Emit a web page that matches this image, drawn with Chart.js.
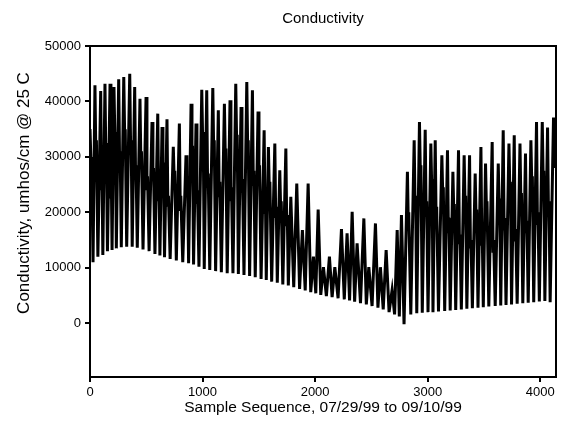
<!DOCTYPE html>
<html>
<head>
<meta charset="utf-8">
<title>Conductivity</title>
<script src="https://cdn.jsdelivr.net/npm/chart.js@4/dist/chart.umd.min.js"></script>
<style>
  html, body { margin: 0; padding: 0; background: #fff; }
  #wrap { width: 566px; height: 430px; }
</style>
</head>
<body>
<div id="wrap"><canvas id="chart" width="566" height="430"></canvas></div>
<script>
// turning points of the record (sample number, conductivity)
const sampleIndex = [
  0, 10, 14, 27, 44, 52, 57, 70, 95, 103, 107, 114, 133, 140, 145, 155,
  178, 186, 190, 196, 213, 221, 226, 234, 255, 263, 268, 278, 300, 308, 313, 326,
  353, 361, 366, 375, 397, 405, 409, 420, 444, 452, 457, 471, 498, 506, 511, 525,
  551, 559, 564, 577, 602, 610, 614, 621, 640, 648, 653, 662, 684, 692, 697, 712,
  740, 748, 753, 767, 794, 802, 807, 824, 853, 861, 866, 876, 898, 906, 911, 920,
  942, 950, 955, 968, 993, 1001, 1006, 1015, 1037, 1045, 1050, 1064, 1091, 1099, 1104, 1116,
  1140, 1148, 1153, 1167, 1194, 1202, 1207, 1219, 1244, 1252, 1257, 1270, 1295, 1303, 1308, 1318,
  1342, 1350, 1355, 1368, 1393, 1401, 1406, 1418, 1443, 1451, 1456, 1468, 1493, 1501, 1506, 1520,
  1547, 1555, 1559, 1566, 1585, 1593, 1598, 1614, 1642, 1650, 1655, 1664, 1686, 1694, 1699, 1713,
  1740, 1748, 1753, 1762, 1784, 1810, 1837, 1862, 1887, 1912, 1938, 1961,
  1985, 2006, 2027, 2050, 2074, 2100, 2127, 2151, 2175, 2204, 2234, 2259, 2284, 2306,
  2329, 2351, 2373, 2403, 2433, 2455, 2477, 2506, 2536, 2558, 2580, 2605, 2631, 2657,
  2684, 2706, 2729, 2748, 2767, 2790,
  2820, 2828, 2832, 2850, 2880, 2888, 2893, 2903, 2927, 2935, 2940, 2952, 2978, 2986, 2991, 3003,
  3028, 3036, 3040, 3047, 3067, 3075, 3080, 3096, 3126, 3134, 3139, 3151, 3176, 3184, 3189, 3200,
  3224, 3232, 3237, 3249, 3274, 3282, 3287, 3299, 3324, 3332, 3337, 3348, 3372, 3380, 3385, 3397,
  3422, 3430, 3435, 3447, 3473, 3481, 3485, 3494, 3514, 3522, 3527, 3543, 3573, 3581, 3586, 3600,
  3627, 3635, 3640, 3649, 3671, 3679, 3684, 3696, 3722, 3730, 3735, 3745, 3769, 3777, 3782, 3795,
  3820, 3828, 3833, 3845, 3869, 3877, 3882, 3893, 3917, 3925, 3930, 3942, 3967, 3975, 3980, 3992,
  4018, 4026, 4031, 4041, 4065, 4073, 4078, 4088, 4118, 4132
];
const conductivity = [
  35000, 28000, 30000, 11000, 42900, 30500, 33000, 12000, 41900, 24000, 27000, 12300, 43200, 31000, 32500, 13000,
  43200, 22500, 25000, 13200, 42600, 33500, 34500, 13500, 44000, 29000, 31000, 13700, 44400, 34000, 35000, 13800,
  45000, 31500, 33000, 13800, 42600, 26000, 28500, 13600, 40500, 29000, 31000, 13300, 40800, 24000, 26500, 13000,
  36300, 27000, 28000, 12500, 37800, 22000, 24000, 12200, 35400, 27500, 29000, 11900, 36800, 21000, 23000, 11600,
  31800, 26000, 27500, 11300, 36000, 20500, 23000, 11000, 30300, 25500, 26500, 10800, 39600, 30500, 32000, 10600,
  36000, 21500, 24000, 10200, 42100, 33000, 34500, 9800, 42000, 24500, 27000, 9600, 42400, 31000, 33000, 9400,
  38400, 23000, 25500, 9200, 39600, 30000, 31500, 9000, 40200, 22000, 24500, 9000, 43200, 32500, 34000, 8900,
  39000, 23500, 26000, 8700, 43500, 31500, 33000, 8500, 42000, 25000, 27500, 8300, 38200, 27000, 28500, 8000,
  34800, 20000, 22000, 7800, 31800, 24000, 25500, 7500, 32400, 19000, 21000, 7300, 27600, 20500, 22000, 7000,
  31500, 17500, 19500, 6800, 22800, 6500, 25200, 6200, 16800, 5900, 25200, 5600,
  12000, 5400, 20500, 5100, 10100, 4900, 12000, 4700, 10100, 4500, 17000, 4300, 16200, 4100,
  20100, 3900, 14400, 3600, 18900, 3400, 10100, 3100, 18000, 2800, 10100, 2500, 13200, 2000,
  6000, 1600, 16800, 1200, 19500, -200,
  27300, 18000, 20000, 1600, 33000, 21000, 23000, 1800, 36300, 27000, 28500, 1900, 34900, 19500, 22000, 2000,
  32400, 24500, 26000, 2000, 33000, 18500, 21000, 2100, 30300, 23000, 24500, 2200, 31200, 16500, 19000, 2300,
  27300, 20000, 21500, 2400, 31200, 14500, 16000, 2500, 30300, 21500, 23000, 2600, 30300, 13500, 15000, 2700,
  27000, 19000, 20500, 2800, 31800, 14000, 16000, 2900, 28800, 20500, 22000, 3000, 32700, 13000, 15000, 3100,
  28800, 21000, 22500, 3200, 34800, 17000, 19000, 3300, 32400, 24000, 25500, 3400, 33900, 15000, 17000, 3500,
  32400, 22000, 23500, 3600, 30600, 16500, 18500, 3700, 33000, 25000, 26500, 3800, 36300, 18000, 20000, 3900,
  36300, 26000, 27500, 4000, 35300, 20000, 22000, 3800, 37100, 28000
];

const xTicks = [0, 1000, 2000, 3000, 4000];
const yTicks = [0, 10000, 20000, 30000, 40000, 50000];

const chartTitle = "Conductivity";
const xTitle = "Sample Sequence, 07/29/99 to 09/10/99";
const yTitle = "Conductivity, umhos/cm @ 25 C";

const FONT = "'Liberation Sans', Arial, sans-serif";

const points = sampleIndex.map((s, i) => ({ x: s, y: conductivity[i] }));

// frame + titles drawn around the plot area
const framePlugin = {
  id: "frame",
  afterDraw(chart) {
    const { ctx, chartArea } = chart;
    ctx.save();
    ctx.strokeStyle = "#000";
    ctx.lineWidth = 2;
    ctx.strokeRect(chartArea.left, chartArea.top, chartArea.right - chartArea.left, chartArea.bottom - chartArea.top);

    ctx.fillStyle = "#000";
    ctx.textAlign = "center";
    ctx.textBaseline = "middle";
    const midX = (chartArea.left + chartArea.right) / 2;

    ctx.font = "15px " + FONT;
    ctx.fillText(chartTitle, midX, 19);

    ctx.font = "15.5px " + FONT;
    ctx.fillText(xTitle, midX, 408);

    ctx.font = "17px " + FONT;
    ctx.translate(24, 193);
    ctx.rotate(-Math.PI / 2);
    ctx.fillText(yTitle, 0, 0);
    ctx.restore();
  },
};

new Chart(document.getElementById("chart"), {
  type: "line",
  data: {
    datasets: [
      {
        data: points,
        borderColor: "#000",
        borderWidth: 3,
        pointRadius: 0,
        tension: 0,
        fill: false,
      },
    ],
  },
  options: {
    responsive: false,
    animation: false,
    layout: { padding: { top: 46, right: 10, left: 0, bottom: 0 } },
    plugins: {
      legend: { display: false },
      tooltip: { enabled: false },
      title: { display: false },
    },
    scales: {
      x: {
        type: "linear",
        min: 0,
        max: 4140,
        afterBuildTicks: (scale) => {
          scale.ticks = xTicks.map((v) => ({ value: v }));
        },
        afterFit: (scale) => {
          scale.height = 53;
        },
        grid: { display: true, drawOnChartArea: false, tickLength: 5, color: "#000", lineWidth: 2 },
        border: { display: true, color: "#000", width: 2 },
        ticks: { color: "#000", padding: 3, maxRotation: 0, font: { family: FONT, size: 13 }, callback: (v) => String(v) },
      },
      y: {
        type: "linear",
        min: -9700,
        max: 50000,
        afterBuildTicks: (scale) => {
          scale.ticks = yTicks.map((v) => ({ value: v }));
        },
        afterFit: (scale) => {
          scale.width = 90;
        },
        grid: { display: true, drawOnChartArea: false, tickLength: 5, color: "#000", lineWidth: 2 },
        border: { display: true, color: "#000", width: 2 },
        ticks: { color: "#000", padding: 4, font: { family: FONT, size: 13 }, callback: (v) => String(v) },
      },
    },
  },
  plugins: [framePlugin],
});
</script>
</body>
</html>
